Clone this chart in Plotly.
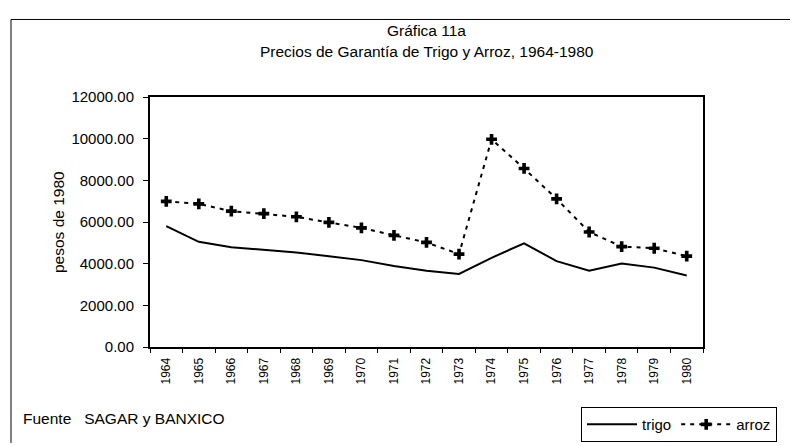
import plotly.graph_objects as go

years = [str(y) for y in range(1964, 1981)]
trigo = [5800, 5050, 4790, 4670, 4540, 4360, 4170, 3890, 3660, 3510, 4280, 4980, 4120, 3660, 4010, 3810, 3430]
arroz = [6990, 6870, 6520, 6400, 6250, 5980, 5720, 5360, 5020, 4460, 9970, 8570, 7110, 5520, 4820, 4740, 4360]
y_ticks = [0, 2000, 4000, 6000, 8000, 10000, 12000]

FONT = "Liberation Sans, Arial, sans-serif"

fig = go.Figure()
fig.add_trace(go.Scatter(x=years, y=trigo, name="trigo", mode="lines",
                         line=dict(color="black", width=2)))
fig.add_trace(go.Scatter(x=years, y=arroz, name="arroz", mode="lines+markers",
                         line=dict(color="black", width=2, dash="4px,5px"),
                         marker=dict(symbol="cross", size=9, color="black")))

W, H = 798, 446
L, R, T, B = 142, 695, 89, 347
pw, ph = R - L, B - T

def px(x):
    return (x - L) / pw

def py(y):
    return (B - y) / ph

fig.update_layout(
    width=W, height=H,
    margin=dict(l=L, r=W - R, t=T, b=H - B),
    paper_bgcolor="white", plot_bgcolor="white",
    font=dict(family=FONT, color="black", size=15),
    showlegend=True,
    legend=dict(orientation="h", x=px(573), y=py(409), xanchor="left", yanchor="top",
                bordercolor="black", borderwidth=1, bgcolor="white",
                font=dict(size=15), itemwidth=50, tracegroupgap=0),
    xaxis=dict(type="category", tickson="boundaries", ticks="outside", ticklen=4,
               tickcolor="black", tickangle=-90, tickfont=dict(size=12),
               ticklabelstandoff=4,
               showline=True, linecolor="black", linewidth=2, mirror=True,
               showgrid=False, zeroline=False, range=[-0.5, 16.5]),
    yaxis=dict(range=[0, 12000], tickvals=y_ticks, tickformat=".2f",
               ticks="outside", ticklen=5, tickcolor="black", tickfont=dict(size=15),
               ticklabelstandoff=6,
               showline=True, linecolor="black", linewidth=2, mirror=True,
               showgrid=False, zeroline=False),
    annotations=[
        dict(text="Gráfica 11a", x=0.5, y=py(20), xref="paper", yref="paper",
             showarrow=False, font=dict(size=15.5), xanchor="center", yanchor="middle"),
        dict(text="Precios de Garantía de Trigo y Arroz, 1964-1980", x=0.5, y=py(42),
             xref="paper", yref="paper", showarrow=False, font=dict(size=15.5),
             xanchor="center", yanchor="middle"),
        dict(text="pesos de 1980", x=px(50), y=py(218), xref="paper", yref="paper",
             showarrow=False, textangle=-90, font=dict(size=15.5),
             xanchor="center", yanchor="middle"),
        dict(text="Fuente   SAGAR y BANXICO", x=px(13), y=py(421), xref="paper", yref="paper",
             showarrow=False, font=dict(size=15.5), xanchor="left", yanchor="middle"),
    ],
    shapes=[
        dict(type="line", xref="paper", yref="paper", x0=px(3), x1=px(798),
             y0=py(9), y1=py(9), line=dict(color="black", width=1)),
        dict(type="line", xref="paper", yref="paper", x0=px(3), x1=px(3),
             y0=py(9), y1=py(446), line=dict(color="black", width=1)),
    ],
)

fig.write_html("out.html")
